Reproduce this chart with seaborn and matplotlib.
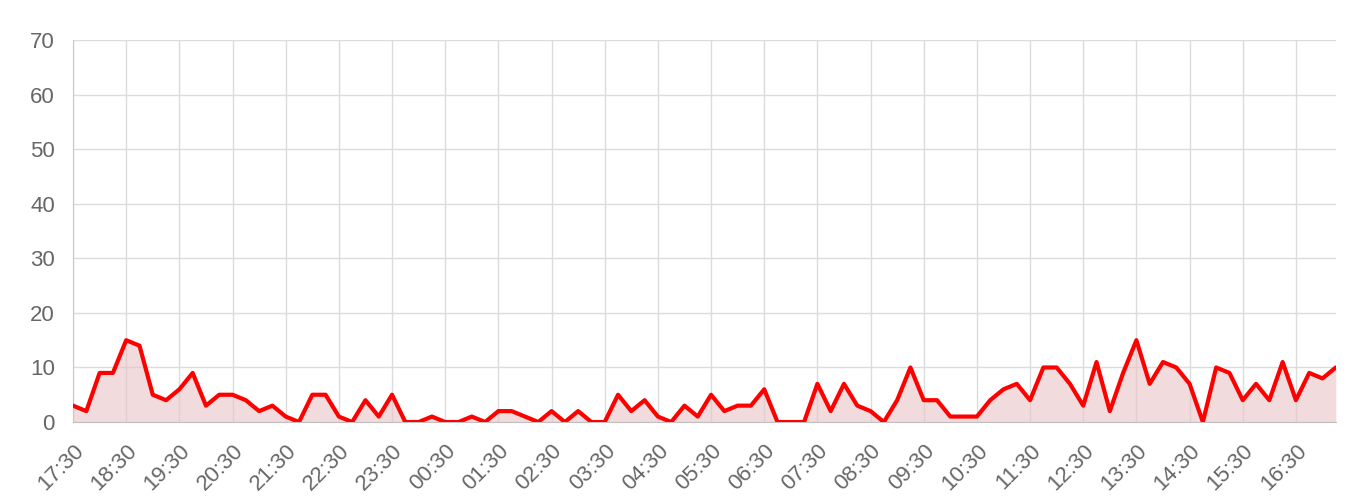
import numpy as np
import pandas as pd
import matplotlib
matplotlib.use('Agg')
import matplotlib.pyplot as plt
import seaborn as sns

# 15-minute readings from 17:30 to 17:15 the next day
values = [3, 2, 9, 9, 15, 14, 5, 4, 6, 9, 3, 5, 5, 4, 2, 3,
          1, 0, 5, 5, 1, 0, 4, 1, 5, 0, 0, 1, 0, 0, 1, 0,
          2, 2, 1, 0, 2, 0, 2, 0, 0, 5, 2, 4, 1, 0, 3, 1,
          5, 2, 3, 3, 6, 0, 0, 0, 7, 2, 7, 3, 2, 0, 4, 10,
          4, 4, 1, 1, 1, 4, 6, 7, 4, 10, 10, 7, 3, 11, 2, 9,
          15, 7, 11, 10, 7, 0, 10, 9, 4, 7, 4, 11, 4, 9, 8, 10]
hour_labels = ['17:30', '18:30', '19:30', '20:30', '21:30', '22:30', '23:30',
               '00:30', '01:30', '02:30', '03:30', '04:30', '05:30', '06:30',
               '07:30', '08:30', '09:30', '10:30', '11:30', '12:30', '13:30',
               '14:30', '15:30', '16:30']
y_ticks = [0, 10, 20, 30, 40, 50, 60, 70]

df = pd.DataFrame({'idx': np.arange(len(values)), 'value': values})

sns.set_style('white')
plt.rcParams['font.family'] = ['Liberation Sans', 'DejaVu Sans']

fig = plt.figure(figsize=(13.6, 5.03), dpi=100)
ax = fig.add_axes([0.0537, 0.161, 0.9285, 0.759])

grid_c = '#dcdcdc'
ax.fill_between(df['idx'], df['value'], 0, color='#e9c3c6', alpha=0.6, linewidth=0, zorder=2)
sns.lineplot(data=df, x='idx', y='value', ax=ax, color='#ff0000', linewidth=3,
             solid_joinstyle='round', solid_capstyle='round', zorder=3)

ax.set_xlim(0, len(values) - 1)
ax.set_ylim(0, 70)
ax.set_xticks(np.arange(0, len(values), 4))
ax.set_xticklabels(hour_labels, rotation=45, ha='right', rotation_mode='anchor')
ax.set_yticks(y_ticks)
ax.set_xlabel('')
ax.set_ylabel('')

ax.grid(True, color=grid_c, linewidth=1, zorder=0)
ax.set_axisbelow(True)
for side in ['top', 'right']:
    ax.spines[side].set_visible(False)
ax.spines['left'].set_color('#c8c8c8')
ax.spines['bottom'].set_color('#c0c0c0')
ax.tick_params(axis='both', length=10, width=1, color=grid_c,
               labelsize=16, labelcolor='#666666', pad=3)

fig.savefig('out.png', dpi=100)
